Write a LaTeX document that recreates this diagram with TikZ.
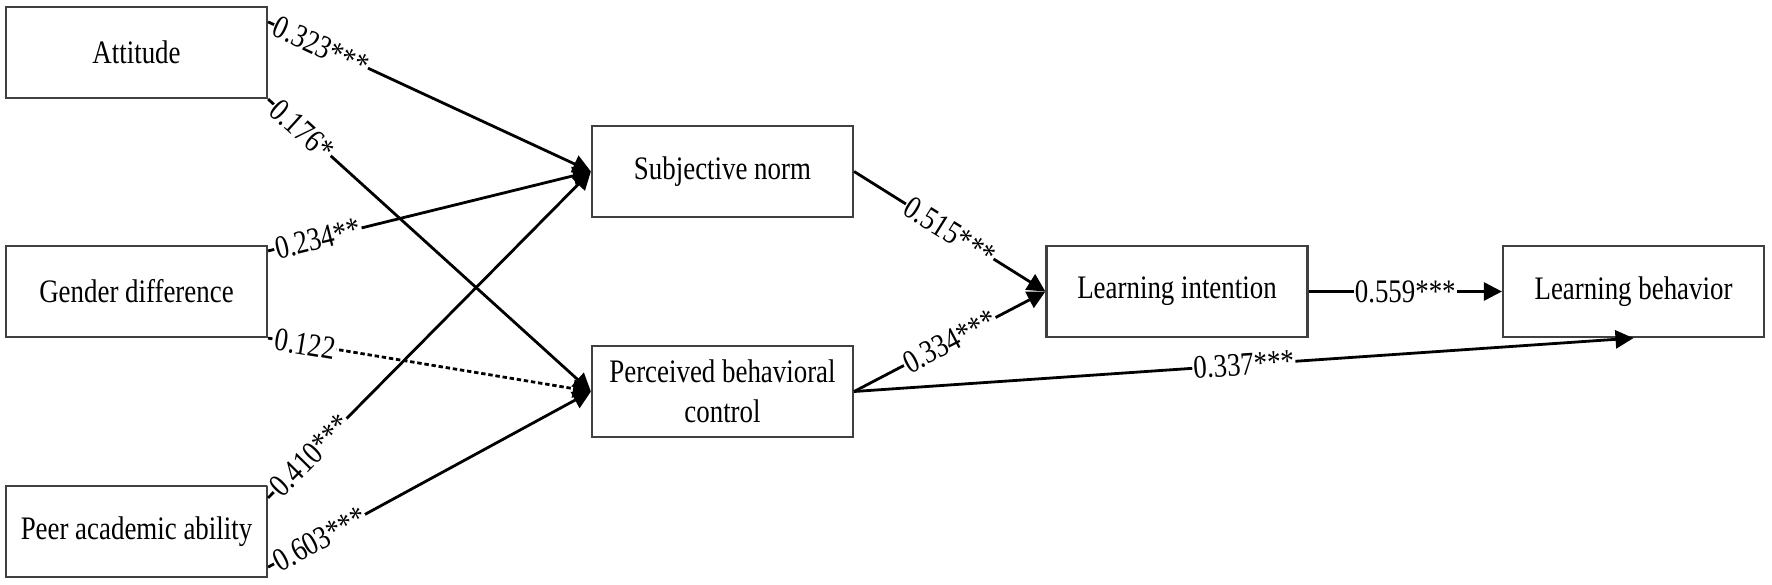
\documentclass[tikz,border=0pt]{standalone}
\usepackage{fontspec}
\usepackage{graphicx}
\setmainfont{Liberation Serif}[FakeStretch=0.82]
\newfontfamily\plainserif{Liberation Serif}
\newcommand{\narrowlab}[1]{\scalebox{0.82}[1]{\plainserif #1}}
\usetikzlibrary{arrows.meta,calc}
\begin{document}
\begin{tikzpicture}[x=0.5pt,y=-0.5pt,
  box/.style={draw=black!75, line width=1.1pt, minimum width=130.5pt, minimum height=45.5pt,
    inner sep=0pt, align=center, font=\fontsize{16.4}{20}\selectfont},
  conn/.style={line width=1.4pt, -{Triangle[length=9pt,width=9pt]}},
  dotconn/.style={conn, dash pattern=on 2.2pt off 1.4pt},
  lab/.style={sloped, fill=white, inner sep=0.6pt, font=\fontsize{16.4}{20}\selectfont},
]
\useasboundingbox (0,0) rectangle (1772,584);

\node[box] (att) at (136.5,52.5) {Attitude};
\node[box] (gen) at (136.5,291.5) {Gender difference};
\node[box] (peer) at (136.5,531.5) {Peer academic ability};
\node[box] (sn) at (722.5,171.5) {Subjective norm};
\node[box] (pbc) at (722.5,391.5) {Perceived behavioral\\control};
\node[box] (li) at (1177,291.5) {Learning intention};
\node[box] (lb) at (1633.5,291.5) {Learning behavior};

\coordinate (attA) at ($(att.north east)+(0,16)$);
\coordinate (attB) at (att.south east);
\coordinate (genA) at ($(gen.north east)+(0,6)$);
\coordinate (genB) at (gen.south east);
\coordinate (peerA) at ($(peer.north east)+(0,13)$);
\coordinate (peerB) at ($(peer.south east)+(0,-11)$);

\draw[conn] (attA) -- node[lab, pos=0.015, anchor=west] {\narrowlab{0.323***}} (sn.west);
\draw[conn] (attB) -- node[lab, pos=0.015, anchor=west] {\narrowlab{0.176*}} (pbc.west);
\draw[conn] (genA) -- node[lab, pos=0.015, anchor=west] {\narrowlab{0.234**}} (sn.west);
\draw[dotconn] (genB) -- node[lab, pos=0.015, anchor=west] {\narrowlab{0.122}} (pbc.west);
\draw[conn] (peerA) -- node[lab, pos=0.015, anchor=west] {\narrowlab{0.410***}} (sn.west);
\draw[conn] (peerB) -- node[lab, pos=0.015, anchor=west] {\narrowlab{0.603***}} (pbc.west);

\draw[conn] (sn.east) -- node[lab, pos=0.5] {\narrowlab{0.515***}} (li.west);
\draw[conn] (pbc.east) -- node[lab, pos=0.5] {\narrowlab{0.334***}} (li.west);
\draw[conn] (li.east) -- node[lab, pos=0.5] {\narrowlab{0.559***}} (lb.west);
\draw[conn] (pbc.east) -- node[lab, pos=0.5] {\narrowlab{0.337***}} (lb.south);
\end{tikzpicture}
\end{document}
